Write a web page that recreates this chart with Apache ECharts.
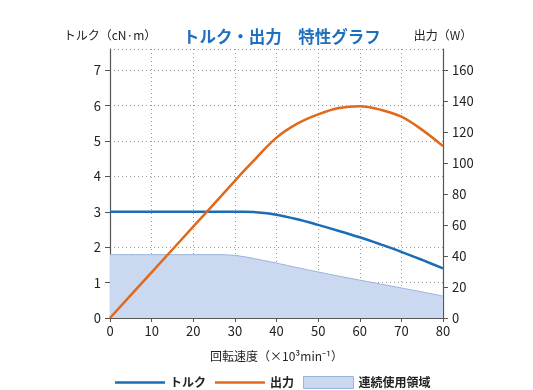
<!DOCTYPE html>
<html>
<head>
<meta charset="utf-8">
<script src="https://cdn.jsdelivr.net/npm/echarts@6/dist/echarts.min.js"></script>
<style>
html,body{margin:0;padding:0;background:#fff;}
#chart{width:533px;height:390px;}
</style>
</head>
<body>
<div id="chart"></div>
<script>
// ---- data ----
var speedTicks = [0, 10, 20, 30, 40, 50, 60, 70, 80];
var torqueTicks = [0, 1, 2, 3, 4, 5, 6, 7];
var powerTicks = [0, 20, 40, 60, 80, 100, 120, 140, 160];

var speed = [0, 10, 20, 30, 32, 35, 40, 45, 50, 55, 60, 65, 70, 75, 80];
var torque = [3.0, 3.0, 3.0, 3.0, 3.0, 2.99, 2.92, 2.79, 2.63, 2.46, 2.28, 2.08, 1.87, 1.64, 1.40];
var power = [0, 29.5, 59, 88.5, 94.5, 103, 116.5, 125.5, 131.5, 135.6, 136.8, 134.5, 130, 121.5, 111];

var areaSpeed = [0, 10, 20, 25, 30, 35, 40, 50, 60, 70, 80];
var areaTorque = [1.79, 1.79, 1.79, 1.79, 1.77, 1.67, 1.55, 1.30, 1.07, 0.85, 0.62];

var seriesNames = ['トルク', '出力', '連続使用領域'];
var titleText = 'トルク・出力　特性グラフ';
var xName = '回転速度（×10³min⁻¹）';
var yLeftName = 'トルク（cN·m）';
var yRightName = '出力（W）';

// ---- build ----
function pairs(xs, ys) { return xs.map(function (x, i) { return [x, ys[i]]; }); }
var leftMax = 7.6;
var rightMax = leftMax * 160 / 7;
var font = '"Noto Sans CJK JP", "Noto Sans", sans-serif';
var axisColor = '#555';
var gridLine = { show: true, lineStyle: { color: '#9a9a9a', type: [1, 3], width: 1 } };
var lineIcon = 'path://M0,0 H50 V2.5 H0 Z';

var chart = echarts.init(document.getElementById('chart'));
chart.setOption({
  animation: false,
  textStyle: { fontFamily: font },
  title: {
    text: titleText, left: 178, top: 23,
    textStyle: { fontSize: 16.5, fontWeight: 'bold', color: '#1f6fbf', fontFamily: font }
  },
  legend: {
    left: 110, top: 371, itemWidth: 50, itemHeight: 12, itemGap: 9,
    textStyle: { fontSize: 12, color: '#222', fontWeight: 'bold', fontFamily: font },
    data: [
      { name: seriesNames[0], icon: lineIcon, itemStyle: { color: '#1b6db5' } },
      { name: seriesNames[1], icon: lineIcon, itemStyle: { color: '#e0691c' } },
      { name: seriesNames[2], icon: 'rect', itemStyle: { color: '#cbd9f0', borderColor: '#98b3dc', borderWidth: 1 } }
    ]
  },
  grid: { left: 110, right: 90, top: 49, bottom: 72 },
  xAxis: [{
    type: 'value', min: 0, max: 80, interval: 10,
    name: xName, nameLocation: 'middle', nameGap: 32,
    nameTextStyle: { fontSize: 12, color: '#222', fontFamily: font },
    axisLine: { show: true, lineStyle: { color: axisColor, width: 1.2 } },
    axisTick: { show: true, length: 4, lineStyle: { color: axisColor } },
    axisLabel: { fontSize: 13, color: '#222', margin: 7 },
    splitLine: gridLine
  }],
  yAxis: [{
    type: 'value', min: 0, max: leftMax, interval: 1, position: 'left',
    name: yLeftName, nameLocation: 'end', nameGap: 8,
    nameTextStyle: { fontSize: 12, color: '#222', fontFamily: font },
    axisLine: { show: true, lineStyle: { color: axisColor, width: 1.2 } },
    axisTick: { show: true, length: 5, lineStyle: { color: axisColor } },
    axisLabel: { fontSize: 13, color: '#222', margin: 9, showMaxLabel: false },
    splitLine: gridLine
  }, {
    type: 'value', min: 0, max: rightMax, interval: 20, position: 'right',
    name: yRightName, nameLocation: 'end', nameGap: 8,
    nameTextStyle: { fontSize: 12, color: '#222', fontFamily: font },
    axisLine: { show: true, lineStyle: { color: axisColor, width: 1.2 } },
    axisTick: { show: true, length: 5, lineStyle: { color: axisColor } },
    axisLabel: { fontSize: 13, color: '#222', margin: 9, showMaxLabel: false },
    splitLine: { show: false }
  }],
  series: [{
    name: seriesNames[2], type: 'line', yAxisIndex: 0,
    data: pairs(areaSpeed, areaTorque), smooth: 0.35,
    symbol: 'none', showSymbol: false, z: 1,
    lineStyle: { color: '#98b3dc', width: 1 },
    itemStyle: { color: '#cbd9f0', borderColor: '#98b3dc' },
    areaStyle: { color: '#cbd9f0', opacity: 1 }
  }, {
    name: seriesNames[0], type: 'line', yAxisIndex: 0,
    data: pairs(speed, torque), smooth: 0.35,
    symbol: 'none', showSymbol: false, z: 3,
    lineStyle: { color: '#1b6db5', width: 2.5 },
    itemStyle: { color: '#1b6db5' }
  }, {
    name: seriesNames[1], type: 'line', yAxisIndex: 1,
    data: pairs(speed, power), smooth: 0.35,
    symbol: 'none', showSymbol: false, z: 4,
    lineStyle: { color: '#e0691c', width: 2.5 },
    itemStyle: { color: '#e0691c' }
  }]
});
</script>
</body>
</html>
